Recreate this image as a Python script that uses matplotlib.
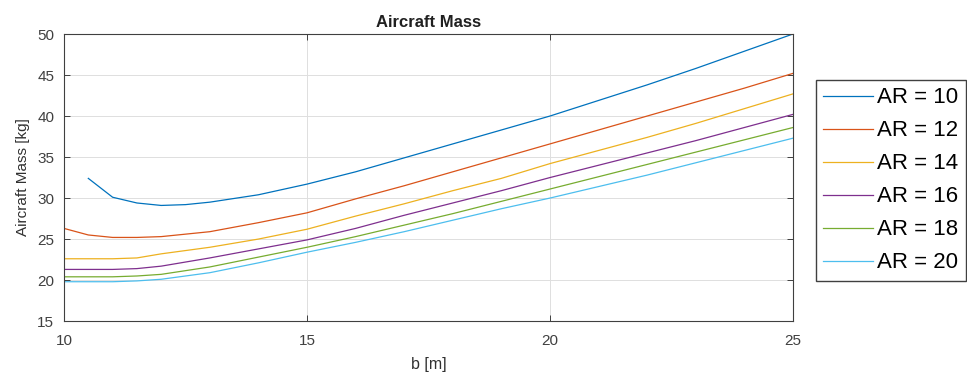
import matplotlib
matplotlib.use('Agg')
import matplotlib.pyplot as plt

plt.rcParams['font.family'] = ['Liberation Sans', 'DejaVu Sans']

# wingspan b [m] and aircraft mass [kg] for each aspect ratio
b_ar10 = [10.5, 11, 11.5, 12, 12.5, 13, 14, 15, 16, 17, 18, 19, 20, 21, 22, 23, 24, 25]
m_ar10 = [32.4, 30.1, 29.4, 29.1, 29.2, 29.5, 30.4, 31.7, 33.2, 34.9, 36.6, 38.3, 40.0, 41.9, 43.8, 45.8, 47.9, 50.0]

b_all = [10, 10.5, 11, 11.5, 12, 13, 14, 15, 16, 17, 18, 19, 20, 21, 22, 23, 24, 25]
m_ar12 = [26.3, 25.5, 25.2, 25.2, 25.3, 25.9, 27.0, 28.2, 29.9, 31.5, 33.2, 34.9, 36.6, 38.3, 40.0, 41.7, 43.4, 45.2]
m_ar14 = [22.6, 22.6, 22.6, 22.7, 23.2, 24.0, 25.0, 26.2, 27.8, 29.3, 30.9, 32.4, 34.2, 35.8, 37.4, 39.1, 40.9, 42.7]
m_ar16 = [21.3, 21.3, 21.3, 21.4, 21.7, 22.7, 23.8, 24.9, 26.3, 27.9, 29.4, 30.9, 32.5, 34.0, 35.5, 37.0, 38.6, 40.2]
m_ar18 = [20.4, 20.4, 20.4, 20.5, 20.7, 21.6, 22.8, 24.0, 25.3, 26.7, 28.1, 29.6, 31.1, 32.6, 34.1, 35.6, 37.1, 38.6]
m_ar20 = [19.8, 19.8, 19.8, 19.9, 20.1, 20.9, 22.1, 23.4, 24.6, 25.9, 27.3, 28.7, 30.0, 31.4, 32.8, 34.3, 35.8, 37.3]

labels = ['AR = 10', 'AR = 12', 'AR = 14', 'AR = 16', 'AR = 18', 'AR = 20']
colors = ['#0072BD', '#D95319', '#EDB120', '#7E2F8E', '#77AC30', '#4DBEEE']

fig = plt.figure(figsize=(9.67, 3.8), dpi=100)
ax = fig.add_axes([0.0662, 0.155, 0.7538, 0.7555])

series = [(b_ar10, m_ar10), (b_all, m_ar12), (b_all, m_ar14),
          (b_all, m_ar16), (b_all, m_ar18), (b_all, m_ar20)]
for (bx, my), lab, col in zip(series, labels, colors):
    ax.plot(bx, my, color=col, lw=0.9, label=lab)

ax.set_xlim(10, 25)
ax.set_ylim(15, 50)
ax.set_xticks([10, 15, 20, 25])
ax.set_yticks(range(15, 51, 5))
ax.grid(True, color='#dedede', lw=0.7)
ax.tick_params(direction='in', top=True, right=True, labelsize=11,
               colors='#404040', length=4, width=0.7)
ax.tick_params(axis='x', pad=9)
ax.tick_params(axis='y', pad=7)
for s in ax.spines.values():
    s.set_color('#404040')
    s.set_linewidth(0.8)

ax.set_title('Aircraft Mass', fontsize=12, fontweight='bold', color='#202020', pad=5)
ax.set_xlabel('b [m]', fontsize=11.5, color='#303030', labelpad=7)
ax.set_ylabel('Aircraft Mass [kg]', fontsize=11, color='#303030', labelpad=5)

fig.legend(loc='upper left', bbox_to_anchor=(816 / 967, 1 - 80 / 380),
           borderaxespad=0, fontsize=16, handlelength=2.25, handletextpad=0.18,
           labelspacing=0.54, borderpad=0.33, fancybox=False,
           edgecolor='#404040', framealpha=1)

fig.savefig('out.png', dpi=100)
